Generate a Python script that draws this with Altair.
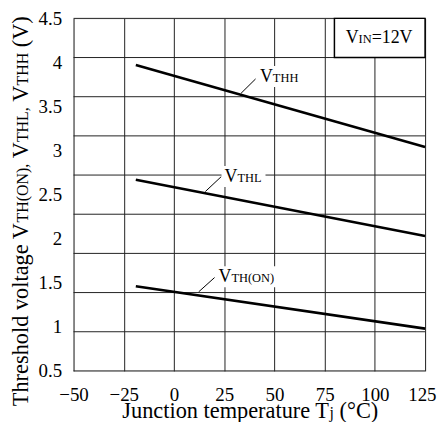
import altair as alt
import pandas as pd

# ---- data ----
series = ["VTHH", "VTHL", "VTH(ON)"]
temp_points = [-19, 125]
vthh = [3.97, 3.04]
vthl = [2.67, 2.03]
vthon = [1.46, 0.98]

x_ticks = [-50, -25, 0, 25, 50, 75, 100, 125]
y_ticks = [0.5, 1, 1.5, 2, 2.5, 3, 3.5, 4, 4.5]
n_hgrid = 10  # horizontal grid lines in the drawing

FONT = "Liberation Serif"
W, H = 354, 355

rows = []
for name, vals in zip(series, [vthh, vthl, vthon]):
    for t, v in zip(temp_points, vals):
        rows.append({"series": name, "temp": t, "volt": v})
df = pd.DataFrame(rows)

# Times metrics (Liberation Serif is metric compatible)
CW = {"T": 611, "h": 500, "r": 333, "e": 444, "s": 389, "o": 500, "l": 278,
      "d": 500, " ": 250, "v": 500, "t": 278, "a": 444, "g": 500, "V": 722,
      "H": 722, "(": 333, "O": 722, "N": 722, ")": 333, ",": 250, "L": 611,
      "I": 333, "=": 564, "1": 500, "2": 500, "J": 389, "u": 500, "n": 500,
      "c": 444, "i": 278, "m": 778, "p": 500, "j": 278, "°": 400, "C": 667}


def tw(s, size):
    return sum(CW.get(c, 500) for c in s) / 1000.0 * size


def txt(s, x, y, size, angle=0):
    return alt.Chart(pd.DataFrame({"t": [s]})).mark_text(
        font=FONT, fontSize=size, align="left", baseline="alphabetic",
        color="black", angle=angle
    ).encode(x=alt.value(x), y=alt.value(y), text="t:N")


def box(x1, y1, x2, y2, stroke=None):
    kw = dict(fill="white")
    if stroke:
        kw.update(stroke=stroke, strokeWidth=1.5)
    return alt.Chart(pd.DataFrame({"a": [0]})).mark_rect(**kw).encode(
        x=alt.value(x1), x2=alt.value(x2), y=alt.value(y1), y2=alt.value(y2))


def seg(x1, y1, x2, y2):
    return alt.Chart(pd.DataFrame({"a": [0]})).mark_rule(
        color="black", strokeWidth=1).encode(
        x=alt.value(x1), y=alt.value(y1), x2=alt.value(x2), y2=alt.value(y2))


last = "datum.value == 125"

# horizontal grid
grid = alt.Chart(pd.DataFrame({"g": list(range(n_hgrid))})).mark_rule(
    color="#222", strokeWidth=1
).encode(y=alt.Y("g:Q", scale=alt.Scale(domain=[0, n_hgrid - 1]), axis=None))

lines = alt.Chart(df).mark_line(color="black", strokeWidth=2.6).encode(
    x=alt.X("temp:Q", scale=alt.Scale(domain=[-50, 125], nice=False),
            axis=alt.Axis(values=x_ticks, grid=True, gridColor="#222",
                          gridWidth=1, ticks=False, tickSize=0, domain=False,
                          labelFont=FONT, labelFontSize=19, labelColor="black",
                          labelPadding=15, labelFlush=False, labelOverlap=False,
                          labelAlign={"condition": {"test": last, "value": "right"},
                                      "value": "center"},
                          labelOffset={"condition": {"test": last, "value": 11},
                                       "value": 0},
                          title=None)),
    y=alt.Y("volt:Q", scale=alt.Scale(domain=[0.5, 4.5], nice=False),
            axis=alt.Axis(values=y_ticks, grid=False, ticks=False, tickSize=0,
                          domain=False, format="~g", labelFont=FONT,
                          labelFontSize=19, labelColor="black", labelPadding=12,
                          labelFlush=False, labelOverlap=False, title=None)),
    detail="series:N",
)

layers = [grid]

# curve labels: (V x, baseline y, subscript, leader)
BIG, SMALL = 18, 12.5
labels = [
    (187.7, 64.0, "THH", (168.7, 75.4, 183.3, 61.0)),
    (152.0, 164.7, "THL", (132.7, 174.4, 148.7, 159.4)),
    (146.0, 265.7, "TH(ON)", (126.0, 275.4, 142.0, 261.0)),
]
ann = []
for vx, by, sub, ld in labels:
    end = vx + tw("V", BIG) + tw(sub, SMALL)
    layers.append(box(vx - 3, by - 16, end + 4, by + 5))
    ann.append(txt("V", vx, by, BIG))
    ann.append(txt(sub, vx + tw("V", BIG), by, SMALL))
    ann.append(seg(*ld))

# VIN box
layers.append(box(262.7, 0, W, 39.4, stroke="black"))
vx, by = 274.0, 24.5
ann.append(txt("V", vx, by, BIG))
ann.append(txt("IN", vx + tw("V", BIG), by, SMALL))
ann.append(txt("=12V", vx + tw("V", BIG) + tw("IN", SMALL), by, BIG))

# y title segments (rotated)
TB, TS = 22.5, 16
ysegs = [("Threshold voltage V", TB), ("TH(ON),", TS), (" V", TB), ("THL,", TS),
         (" V", TB), ("THH", TS), (" (V)", TB)]
total = sum(tw(s, z) for s, z in ysegs)
pos = 194.2 + total / 2
for s, z in ysegs:
    lead = len(s) - len(s.lstrip(" "))
    ann.append(txt(s.lstrip(" "), -46, pos - tw(" " * lead, z), z, angle=270))
    pos -= tw(s, z)

# x title segments
xsegs = [("Junction temperature T", TB), ("j", TS), (" (°C)", TB)]
total = sum(tw(s, z) for s, z in xsegs)
px = 178 - total / 2
for s, z in xsegs:
    lead = len(s) - len(s.lstrip(" "))
    ann.append(txt(s.lstrip(" "), px + tw(" " * lead, z), 402.0, z))
    px += tw(s, z)

chart = alt.layer(*layers, lines, *ann).resolve_scale(y="independent").properties(
    width=W, height=H,
    autosize=alt.AutoSizeParams(type="none"),
    padding={"left": 66, "top": 9, "right": 12, "bottom": 50},
).configure_view(stroke="black", strokeWidth=2).configure(background="white")

chart.save("out.html", embed_options={"renderer": "svg", "actions": False})
